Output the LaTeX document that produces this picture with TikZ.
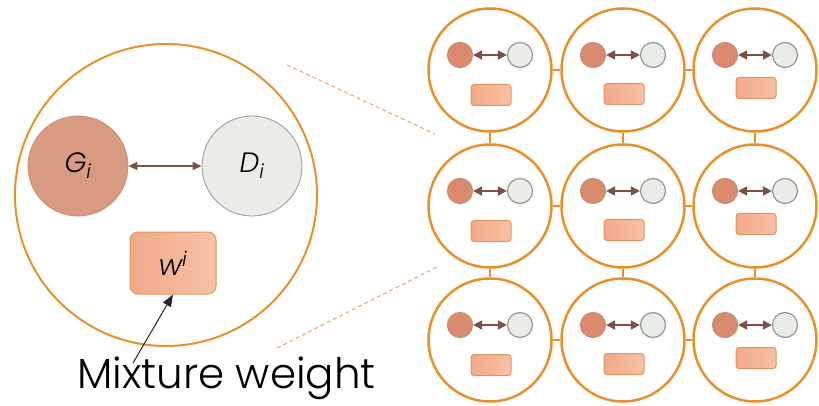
\documentclass[tikz,border=0pt]{standalone}
\usepackage{fontspec}
\setmainfont{Poppins}[UprightFont=* Light, ItalicFont=* Light Italic]
\usetikzlibrary{arrows.meta}
\definecolor{ring}{HTML}{E8912C}
\definecolor{gfill}{HTML}{D99A82}
\definecolor{gline}{HTML}{C98C74}
\definecolor{sgfill}{HTML}{DB8B6D}
\definecolor{dfill}{HTML}{E9ECE7}
\definecolor{dline}{HTML}{8F9A92}
\definecolor{wleft}{HTML}{F2AA88}
\definecolor{wright}{HTML}{F7C1A7}
\definecolor{wline}{HTML}{E2965F}
\definecolor{link}{HTML}{7B5148}
\definecolor{zoomline}{HTML}{EAA46A}
\tikzset{
  bigring/.style={circle, draw=ring, line width=2pt, minimum size=302pt, inner sep=0pt},
  cellring/.style={circle, draw=ring, line width=2.5pt, minimum size=123pt, inner sep=0pt},
  gbig/.style={circle, draw=gline, line width=0.8pt, fill=gfill, minimum size=100pt, inner sep=0pt},
  dbig/.style={circle, draw=dline, line width=0.8pt, fill=dfill, minimum size=100pt, inner sep=0pt},
  wbig/.style={rectangle, rounded corners=8pt, draw=wline, line width=1pt, left color=wleft, right color=wright, minimum width=86pt, minimum height=62pt, inner sep=0pt},
  gsmall/.style={circle, draw=gline, line width=1.2pt, fill=sgfill, minimum size=25pt, inner sep=0pt},
  dsmall/.style={circle, draw=dline, line width=1.2pt, fill=dfill, minimum size=25pt, inner sep=0pt},
  wsmall/.style={rectangle, rounded corners=3pt, draw=wline, line width=1pt, left color=wleft, right color=wright, minimum width=40pt, minimum height=21pt, inner sep=0pt},
  duplex/.style={link, line width=1.5pt, {Triangle[length=9pt,width=8pt]}-{Triangle[length=9pt,width=8pt]}},
  duplexsmall/.style={link, line width=1.8pt, {Triangle[length=9pt,width=9pt]}-{Triangle[length=9pt,width=9pt]}},
  tie/.style={ring, line width=2.5pt},
  zoomlink/.style={zoomline, line width=1pt, dash pattern=on 4pt off 3pt},
  pointer/.style={black!85, line width=1pt, -{Triangle[length=12pt,width=9pt]}},
}
\begin{document}
\begin{tikzpicture}[x=1pt,y=-1pt]
\useasboundingbox (0,0) rectangle (819,406);
% big cell
\node[bigring] (big) at (166,195) {};
\node[gbig] (G) at (78,166) {\fontsize{28}{30}\selectfont\itshape G\textsubscript{i}};
\node[dbig] (D) at (252,166) {\fontsize{28}{30}\selectfont\itshape D\textsubscript{i}};
\draw[duplex] (G) -- (D);
\node[wbig] (w) at (173,263) {\fontsize{29}{30}\selectfont\itshape w\textsuperscript{i}};
\node[anchor=base west, inner sep=0pt, font=\fontsize{42}{44}\selectfont] (mw) at (77,388) {Mixture weight};
\coordinate (mwstart) at (133,363);
\draw[pointer] (mwstart) -- (w.south);
% grid
\foreach \c/\x/\dy in {1/490/25, 2/623/24, 3/755/18} {
  \foreach \r/\y in {1/70, 2/206, 3/340} {
    \node[cellring] (c\c\r) at (\x,\y) {};
    \node[gsmall] (g\c\r) at (\x-30,\y-15) {};
    \node[dsmall] (d\c\r) at (\x+30,\y-15) {};
    \draw[duplexsmall] (g\c\r) -- (d\c\r);
    \node[wsmall] (w\c\r) at (\x+1,\y+\dy) {};
  }
}
\foreach \r in {1,2,3} {
  \draw[tie] (c1\r.east) -- (c2\r.west);
  \draw[tie] (c2\r.east) -- (c3\r.west);
}
\foreach \c in {1,2,3} {
  \draw[tie] (c\c1.south) -- (c\c2.north);
  \draw[tie] (c\c2.south) -- (c\c3.north);
}
% zoom lines
\coordinate (zu1) at (287,65);
\coordinate (zu2) at (435,134);
\coordinate (zl1) at (277,348);
\coordinate (zl2) at (439,266);
\draw[zoomlink] (zu1) -- (zu2);
\draw[zoomlink] (zl1) -- (zl2);
\end{tikzpicture}
\end{document}
